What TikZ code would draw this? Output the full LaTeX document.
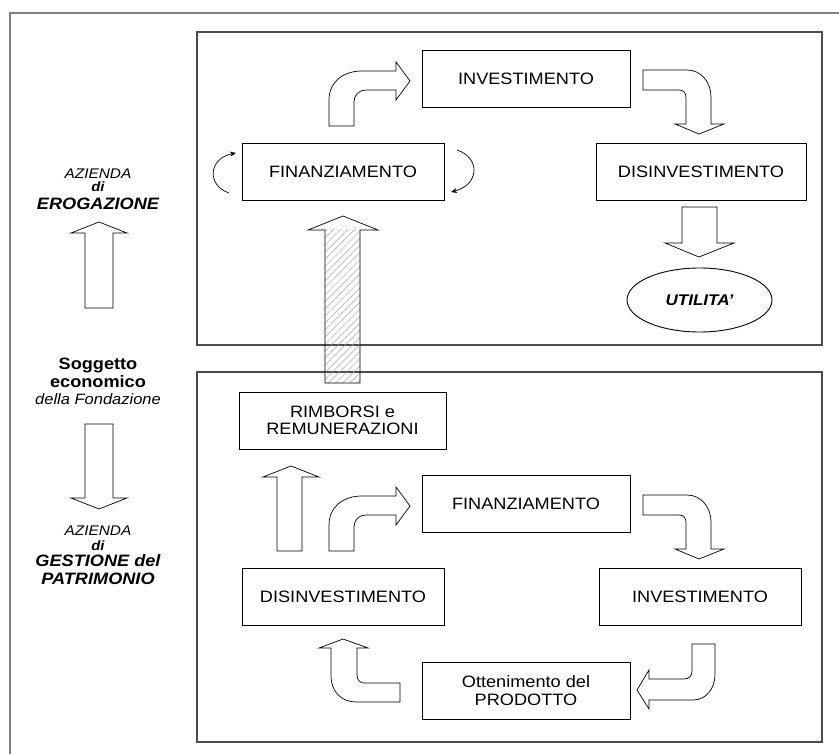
\documentclass[tikz,border=0pt]{standalone}
\usepackage{fontspec}
\setmainfont{Liberation Sans}[FakeStretch=1.1]
\usetikzlibrary{shapes.geometric,patterns.meta,arrows.meta}

\tikzset{
  box/.style={draw, line width=0.9pt, align=center, inner sep=0pt,
    minimum height=57pt, font=\fontsize{16.5}{17.5}\selectfont},
  frame/.style={draw=black!70, line width=1.1pt},
  blockarrow/.style={draw, line width=0.7pt, fill=white},
  turn/.style={-{Stealth[length=6pt,width=5pt]}, line width=0.7pt},
  side/.style={anchor=base, inner sep=0pt, font=\fontsize{14}{16}\selectfont\itshape},
  sidedi/.style={anchor=base, inner sep=0pt, font=\fontsize{13.5}{15}\selectfont\bfseries\itshape},
  sidebig/.style={anchor=base, inner sep=0pt, font=\fontsize{16.5}{18}\selectfont\bfseries\itshape},
  sidebold/.style={anchor=base, inner sep=0pt, font=\fontsize{16.5}{18}\selectfont\bfseries}
}

\begin{document}
\begin{tikzpicture}[x=1pt, y=-1pt]
  \useasboundingbox (0,0) rectangle (839,754);
  \draw[black!50, line width=1.5pt] (10,754) -- (10,13) -- (839,13);
  \draw[frame] (197,32) rectangle (822,345);
  \draw[frame] (197,372) rectangle (822,742);

  % azienda di erogazione
  \node[box, minimum width=208pt] (invU) at (526,78.5) {INVESTIMENTO};
  \node[box, minimum width=202pt] (finU) at (343,171.5) {FINANZIAMENTO};
  \node[box, minimum width=210pt] (disU) at (701,171.5) {DISINVESTIMENTO};
  \node[draw, ellipse, line width=0.9pt, inner sep=0pt, minimum width=145pt, minimum height=64pt,
    font=\fontsize{15.5}{17}\selectfont\bfseries\itshape] (util) at (699.5,300) {UTILITA'};

  % azienda di gestione del patrimonio
  \node[box, minimum width=207pt] (rimL) at (342.5,420.5) {RIMBORSI e\\REMUNERAZIONI};
  \node[box, minimum width=208pt] (finL) at (526,503.5) {FINANZIAMENTO};
  \node[box, minimum width=202pt] (disL) at (343,596.5) {DISINVESTIMENTO};
  \node[box, minimum width=202pt] (invL) at (700,596.5) {INVESTIMENTO};
  \node[box, minimum width=208pt] (ottL) at (526,690.5) {Ottenimento del\\PRODOTTO};

  % left column
  \node[side] (azEro) at (98,178.5) {AZIENDA};
  \node[sidedi] (diEro) at (98,192) {di};
  \node[sidebig] (ero) at (98,210) {EROGAZIONE};
  \node[sidebold] (sogg) at (98,370) {Soggetto};
  \node[sidebold] (econ) at (98,388) {economico};
  \node[side, font=\fontsize{15}{17}\selectfont\itshape] (fond) at (98,404) {della Fondazione};
  \node[side] (azGes) at (98,535) {AZIENDA};
  \node[sidedi] (diGes) at (98,550) {di};
  \node[sidebig] (ges) at (98,566) {GESTIONE del};
  \node[sidebig] (patr) at (98,584) {PATRIMONIO};

  \draw[blockarrow] (85,308) -- (85,233) -- (71,233) -- (99,222) -- (127,233) -- (113,233) -- (113,308) -- cycle;
  \draw[blockarrow] (85,424) -- (85,498) -- (71,498) -- (99,509) -- (127,498) -- (113,498) -- (113,424) -- cycle;

  % bent arrows, the same in both boxes
  \foreach \dy in {0,425} {
    \begin{scope}[shift={(0,\dy)}]
      \draw[blockarrow] (329,126) -- (329,100) .. controls (329,82) and (343,71) .. (362,71) -- (396,71)
        -- (396,62) -- (410,81) -- (396,100) -- (396,90) -- (366,90) .. controls (359,90) and (354,95) .. (354,102)
        -- (354,126) -- cycle;
      \draw[blockarrow] (643,70) -- (687,70) .. controls (701,70) and (711,82) .. (711,97) -- (711,124)
        -- (724,124) -- (699,134) -- (675,124) -- (686,124) -- (686,98) .. controls (686,93) and (684,90) .. (679,90)
        -- (643,90) -- cycle;
    \end{scope}
  }

  \draw[blockarrow] (682,207) -- (682,243) -- (665,243) -- (699,257) -- (734,243) -- (717,243) -- (717,207) -- cycle;
  \draw[blockarrow] (277,551) -- (277,477) -- (263,477) -- (291,466) -- (319,477) -- (302,477) -- (302,551) -- cycle;
  \draw[blockarrow] (692,644) -- (692,671) .. controls (692,676) and (689,679) .. (684,679) -- (649,679)
    -- (649,670) -- (637,690) -- (649,709) -- (649,700) -- (693,700) .. controls (706,700) and (715,689) .. (715,674)
    -- (715,644) -- cycle;
  \draw[blockarrow] (400,683) -- (364,683) .. controls (360,683) and (357,680) .. (357,675) -- (357,648)
    -- (368,648) -- (343,639) -- (319,648) -- (331,648) -- (331,676) .. controls (331,691) and (341,702) .. (356,702)
    -- (400,702) -- cycle;

  % rimborsi towards the erogazione
  \fill[pattern={Lines[angle=45,distance=5pt,line width=0.5pt]}, pattern color=black!35] (325,230) rectangle (360,383);
  \draw[line width=0.7pt] (325,383) -- (325,230) -- (308,230) -- (343,216) -- (378,230) -- (360,230) -- (360,383) -- cycle;

  % finanziamento turning on itself
  \draw[turn] (229,193) .. controls (206,185) and (209,158) .. (236,153);
  \draw[turn] (457,150) .. controls (481,158) and (479,185) .. (451,192);
\end{tikzpicture}
\end{document}
